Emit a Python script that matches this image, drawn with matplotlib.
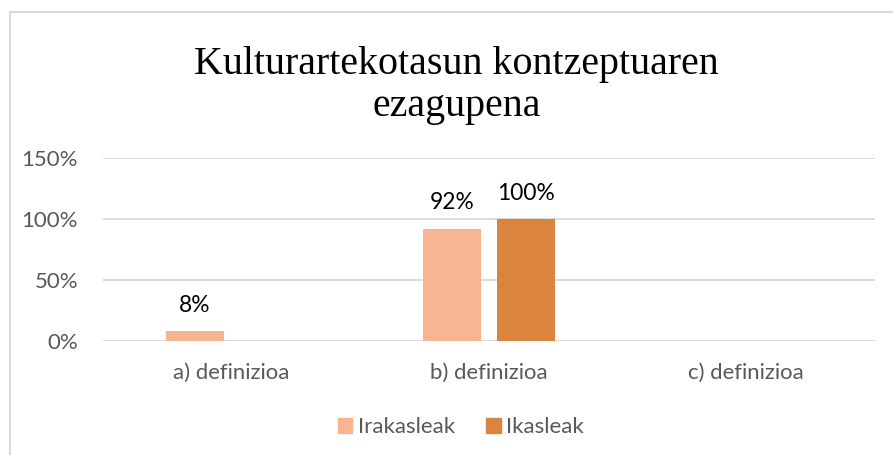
import numpy as np
import matplotlib.pyplot as plt
from matplotlib.lines import Line2D
from matplotlib.patches import Patch

categories = ["a) definizioa", "b) definizioa", "c) definizioa"]
irakasleak = [0.08, 0.92, 0.0]
ikasleak = [0.0, 1.00, 0.0]
irakasleak_labels = ["8%", "92%", ""]
ikasleak_labels = ["", "100%", ""]
yticks = [0, 0.5, 1.0, 1.5]
ytick_labels = ["0%", "50%", "100%", "150%"]

c_light = "#F8B592"
c_dark = "#DB843D"
grey = "#595959"

W, H = 893, 455
fig = plt.figure(figsize=(W / 100, H / 100), dpi=100)
ax = fig.add_axes([103 / W, 114 / H, (875 - 103) / W, (341 - 158) / H])

x = np.arange(len(categories))
bw = 0.225
gap = 0.031
b1 = ax.bar(x - bw / 2 - gap, irakasleak, bw, color=c_light, zorder=3)
b2 = ax.bar(x + bw / 2 + gap, ikasleak, bw, color=c_dark, zorder=3)

for bars, labs in ((b1, irakasleak_labels), (b2, ikasleak_labels)):
    for rect, lab in zip(bars, labs):
        if lab:
            ax.annotate(lab, (rect.get_x() + rect.get_width() / 2, rect.get_height()),
                        xytext=(0, 11), textcoords="offset points", ha="center", va="bottom",
                        fontsize=16.4, family="Lato", color="black")

ax.set_xlim(-0.5, 2.5)
ax.set_ylim(0, 1.5)
ax.set_yticks(yticks)
ax.set_yticklabels(ytick_labels, fontsize=16, family="Lato", color=grey)
ax.set_xticks(x)
ax.set_xticklabels(categories, fontsize=15.9, family="Lato", color=grey)
ax.tick_params(axis="both", length=0)
ax.tick_params(axis="y", pad=18)
ax.tick_params(axis="x", pad=16)
ax.grid(axis="y", color="#D9D9D9", linewidth=1.3, zorder=0)
for s in ax.spines.values():
    s.set_visible(False)

fig.text(456 / W, 1 - 74 / H, "Kulturartekotasun kontzeptuaren", ha="center", va="baseline",
         fontsize=28.8, family="Liberation Serif", color="black")
fig.text(457 / W, 1 - 116 / H, "ezagupena", ha="center", va="baseline",
         fontsize=28.8, family="Liberation Serif", color="black")

handles = [Patch(color=c_light), Patch(color=c_dark)]
fig.legend(handles, ["Irakasleak", "Ikasleak"], loc="center", bbox_to_anchor=(461 / W, 1 - 427 / H),
           ncol=2, frameon=False, prop={"family": "Lato", "size": 16}, labelcolor=grey,
           handlelength=0.65, handleheight=0.65, handletextpad=0.25, columnspacing=1.4)

# chart border (only left and top edges are in frame)
fig.add_artist(Line2D([10 / W, 10 / W], [0, 1 - 12 / H], transform=fig.transFigure,
                      color="#D9D9D9", linewidth=1.5))
fig.add_artist(Line2D([10 / W, 1], [1 - 12 / H, 1 - 12 / H], transform=fig.transFigure,
                      color="#D9D9D9", linewidth=1.5))

fig.savefig("out.png", dpi=100)
